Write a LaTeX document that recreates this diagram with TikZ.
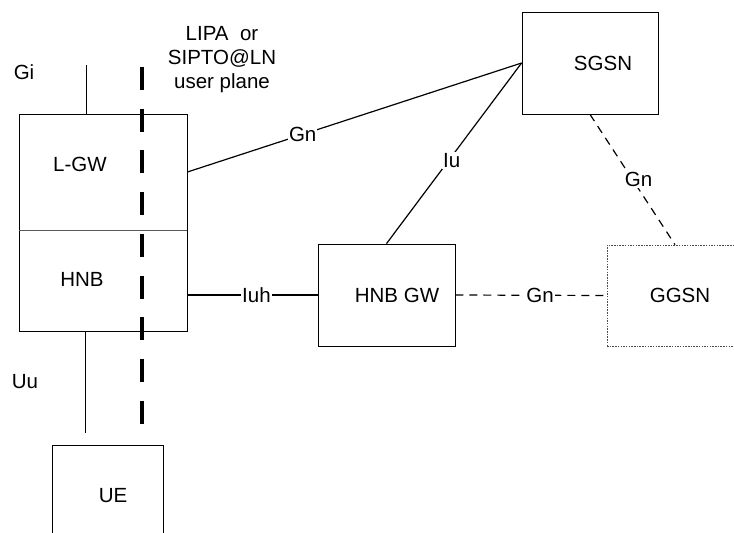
\documentclass[tikz,border=0pt]{standalone}
\usepackage{fontspec}
\setmainfont{Liberation Sans}
\begin{document}
\begin{tikzpicture}[x=1pt,y=-1pt,
    every node/.style={font=\fontsize{20.5}{24}\selectfont},
    box/.style 2 args={draw,line width=0.8pt,inner sep=0pt,minimum width=#1,minimum height=#2},
    link/.style={line width=1.2pt},
    gnlink/.style={line width=1.2pt,dash pattern=on 8pt off 6pt},
    iflabel/.style={fill=white,inner sep=1pt}]
\clip (0,0) rectangle (734,533);

% boxes
\node[box={168pt}{116pt}] (lgw) at (103,172) {};
\node[box={168pt}{101pt}] (hnb) at (103,280.5) {};
\node[box={111pt}{100pt}] (ue) at (107.5,495) {};
\node[box={137pt}{102pt}] (hnbgw) at (386.5,295) {};
\node[box={136pt}{102pt}] (sgsn) at (590,63) {};
\node[box={136pt}{101pt},draw=black!70,line width=0.7pt,dash pattern=on 1.5pt off 1.2pt] (ggsn) at (675,295.5) {};
\draw[line width=1.6pt,black!65] (lgw.south west) -- (lgw.south east);

% box names
\node (lgwname) at (80,164) {L-GW};
\node (hnbname) at (82,279) {HNB};
\node (uename) at (113,496) {UE};
\node (hnbgwname) at (397,295) {HNB GW};
\node (sgsnname) at (603,63) {SGSN};
\node (ggsnname) at (680,295) {GGSN};

% Gi and Uu
\coordinate (gi) at (86,65);
\coordinate (uu) at (85,433);
\draw[line width=1pt] (gi) -- (gi |- lgw.north);
\draw[line width=1pt] (uu |- hnb.south) -- (uu);
\node (giname) at (24,72) {Gi};
\node (uuname) at (25,382) {Uu};

% user plane
\coordinate (uptop) at (141.5,67);
\coordinate (upbot) at (141.5,424);
\draw[line width=4pt,dash pattern=on 23pt off 18.7pt] (uptop) -- (upbot);
\node[align=center] (upname) at (222,60) {LIPA~ or\\SIPTO@LN\\user plane};

% interfaces
\draw[link] (lgw.east) -- node[iflabel,pos=0.345] {Gn} (sgsn.west);
\draw[link] (hnbgw.north) -- node[iflabel,pos=0.46,xshift=3pt] {Iu} (sgsn.west);
\draw[link] (hnbgw.west -| hnb.east) -- node[iflabel,pos=0.53] {Iuh} (hnbgw.west);
\draw[gnlink] (sgsn.south) -- node[iflabel,pos=0.5,xshift=6pt] {Gn} (ggsn.north);
\draw[gnlink] (hnbgw.east) -- node[iflabel,pos=0.56] {Gn} (ggsn.west);
\end{tikzpicture}
\end{document}
